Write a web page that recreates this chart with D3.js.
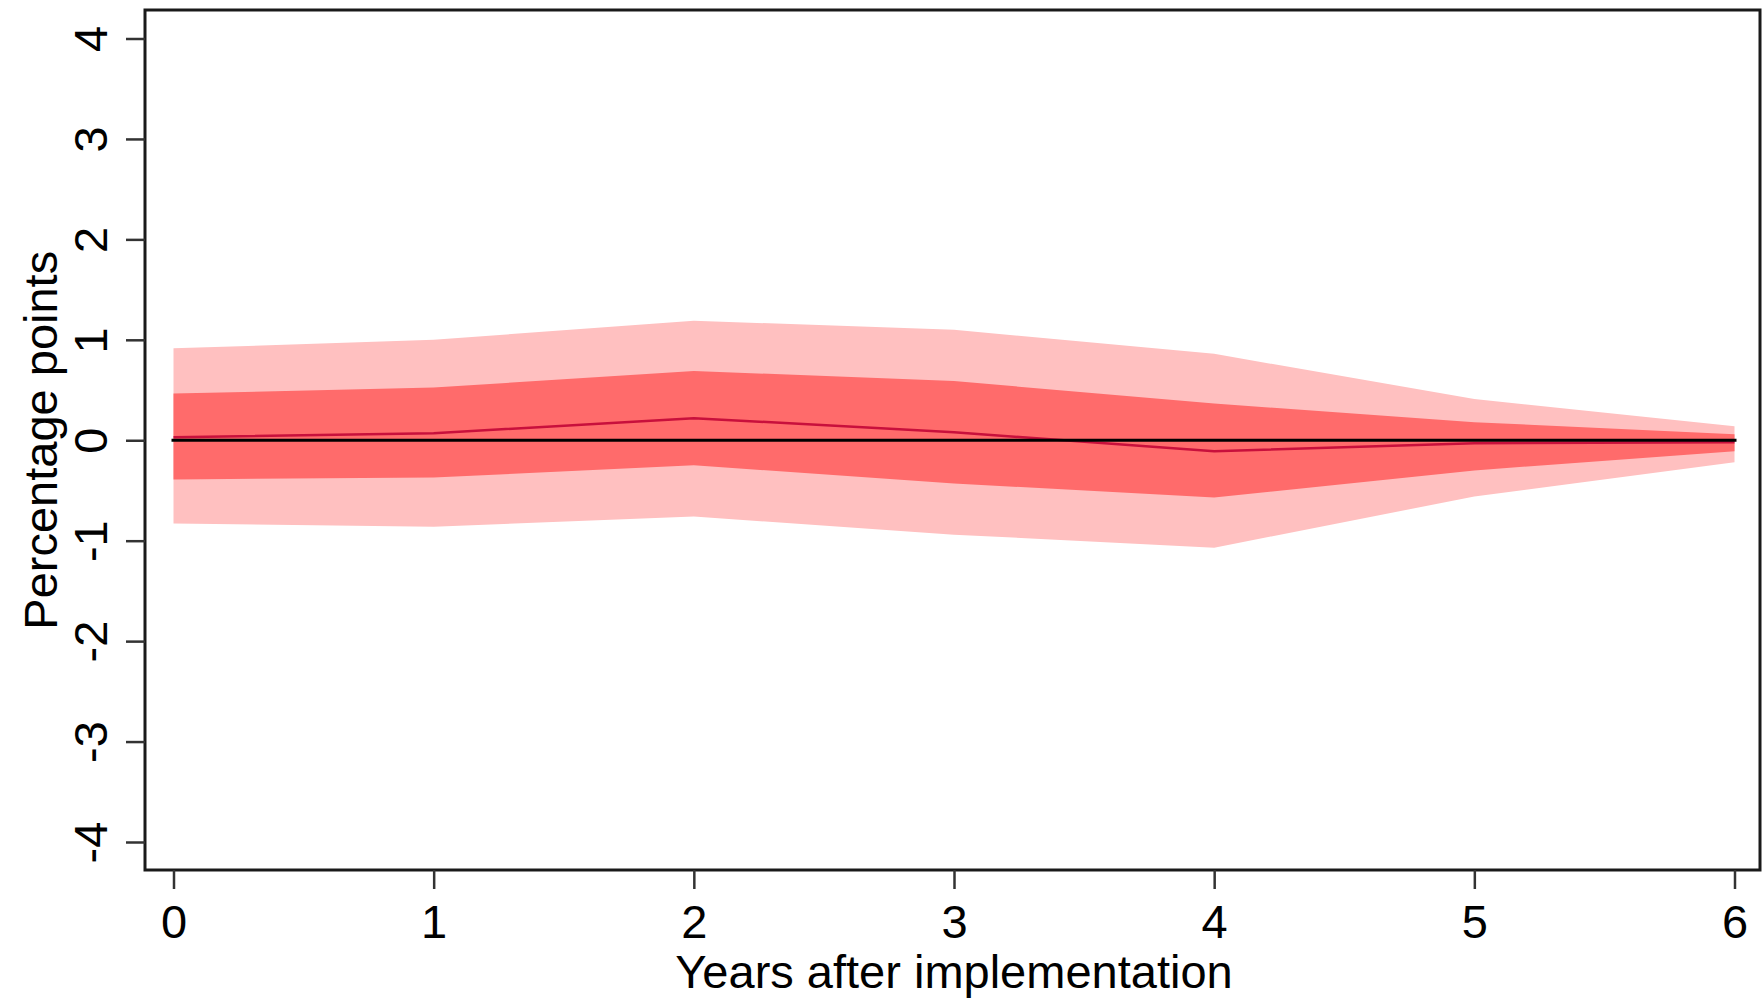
<!DOCTYPE html>
<html>
<head>
<meta charset="utf-8">
<script src="https://cdn.jsdelivr.net/npm/d3@7"></script>
<style>
  html, body { margin: 0; padding: 0; background: #fff; }
  svg { display: block; font-family: "Liberation Sans", Arial, sans-serif; }
</style>
</head>
<body>
<div id="vis-holder"></div>
<script>
// Chart data
const years = [0, 1, 2, 3, 4, 5, 6];
const estimate = [0.03, 0.07, 0.22, 0.08, -0.11, -0.03, -0.02];
const innerLo = [-0.39, -0.37, -0.25, -0.43, -0.57, -0.30, -0.11];
const innerHi = [0.465, 0.525, 0.69, 0.59, 0.365, 0.18, 0.06];
const outerLo = [-0.83, -0.86, -0.76, -0.94, -1.07, -0.56, -0.22];
const outerHi = [0.915, 1.0, 1.19, 1.10, 0.86, 0.41, 0.14];
const yTicks = [-4, -3, -2, -1, 0, 1, 2, 3, 4];
const xLabel = "Years after implementation";
const yLabel = "Percentage points";

const width = 1764;
const height = 998;

// Plot region box
const box = { left: 145, right: 1760, top: 10, bottom: 870 };

const svg = d3.select("#vis-holder")
    .append("svg")
    .attr("width", width)
    .attr("height", height)
    .attr("viewBox", [0, 0, width, height]);

const x = d3.scaleLinear()
    .domain([0, 6])
    .range([173.5, 1734.5]);

const y = d3.scaleLinear()
    .domain([-4, 4])
    .range([842, 38.5]);

const data = years.map((yr, i) => ({
  year: yr,
  est: estimate[i],
  ilo: innerLo[i], ihi: innerHi[i],
  olo: outerLo[i], ohi: outerHi[i]
}));

// Outer confidence band
svg.append("path")
    .datum(data)
    .attr("fill", "#ffc0c0")
    .attr("d", d3.area()
        .x((d) => x(d.year))
        .y0((d) => y(d.olo))
        .y1((d) => y(d.ohi)));

// Inner confidence band
svg.append("path")
    .datum(data)
    .attr("fill", "#ff6b6b")
    .attr("d", d3.area()
        .x((d) => x(d.year))
        .y0((d) => y(d.ilo))
        .y1((d) => y(d.ihi)));

// Point estimate
svg.append("path")
    .datum(data)
    .attr("fill", "none")
    .attr("stroke", "#c8103c")
    .attr("stroke-width", 2.5)
    .attr("d", d3.line()
        .x((d) => x(d.year))
        .y((d) => y(d.est)));

// Zero line
svg.append("line")
    .attr("x1", x(0) - 2)
    .attr("x2", x(6) + 2)
    .attr("y1", y(0))
    .attr("y2", y(0))
    .attr("stroke", "#000")
    .attr("stroke-width", 3);

// Plot box
svg.append("rect")
    .attr("x", box.left)
    .attr("y", box.top)
    .attr("width", box.right - box.left)
    .attr("height", box.bottom - box.top)
    .attr("fill", "none")
    .attr("stroke", "#1a1a1a")
    .attr("stroke-width", 3);

// plain hyphen for negatives, as in the original
const fmt = (d) => String(d);

// X axis
const xAxis = svg.append("g")
    .attr("transform", `translate(0,${box.bottom})`)
    .call(d3.axisBottom(x)
        .tickValues(years)
        .tickFormat(fmt)
        .tickSize(19)
        .tickPadding(16));
xAxis.select(".domain").remove();
xAxis.selectAll(".tick line").attr("stroke", "#333").attr("stroke-width", 2.5);
xAxis.selectAll(".tick text")
    .attr("font-size", "47px")
    .attr("font-family", "Liberation Sans, Arial, sans-serif")
    .attr("fill", "#000");

// Y axis with rotated labels
const yAxis = svg.append("g")
    .attr("transform", `translate(${box.left},0)`)
    .call(d3.axisLeft(y)
        .tickValues(yTicks)
        .tickFormat(fmt)
        .tickSize(19));
yAxis.select(".domain").remove();
yAxis.selectAll(".tick line").attr("stroke", "#333").attr("stroke-width", 2.5);
yAxis.selectAll(".tick text")
    .attr("font-size", "47px")
    .attr("font-family", "Liberation Sans, Arial, sans-serif")
    .attr("fill", "#000")
    .attr("x", null)
    .attr("dy", null)
    .attr("text-anchor", "middle")
    .attr("transform", "translate(-38,0) rotate(-90)");

// Axis titles
svg.append("text")
    .attr("x", 954)
    .attr("y", 988)
    .attr("text-anchor", "middle")
    .attr("font-size", "47px")
    .attr("fill", "#000")
    .text(xLabel);

svg.append("text")
    .attr("transform", `translate(57,${y(0)}) rotate(-90)`)
    .attr("text-anchor", "middle")
    .attr("font-size", "47px")
    .attr("fill", "#000")
    .text(yLabel);
</script>
</body>
</html>
